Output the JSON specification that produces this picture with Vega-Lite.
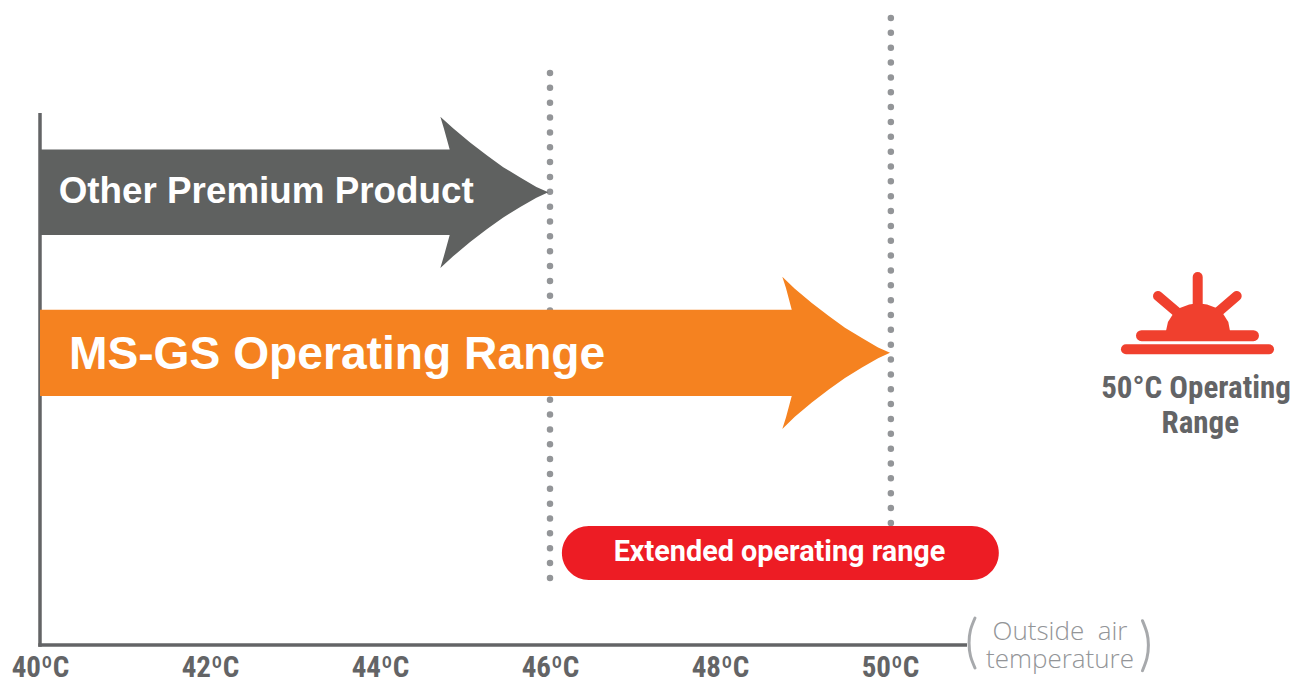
{
"$schema":"https://vega.github.io/schema/vega-lite/v6.json",
"width":1295,"height":684,"autosize":{"type":"none"},"padding":0,"background":"white",
"config":{"view":{"stroke":null}},
"datasets":{
"arrows":[
{"s":"Other","o":1,"t":40,"h":149.5},{"s":"Other","o":2,"t":44.82,"h":149.5},{"s":"Other","o":3,"t":44.75,"h":128},{"s":"Other","o":4,"t":44.71,"h":116.7},{"s":"Other","o":5,"t":44.86,"h":128.3},{"s":"Other","o":6,"t":45.06,"h":142.6},{"s":"Other","o":7,"t":45.26,"h":155.6},{"s":"Other","o":8,"t":45.45,"h":167.2},{"s":"Other","o":9,"t":45.65,"h":177.6},{"s":"Other","o":10,"t":45.84,"h":186.9},{"s":"Other","o":11,"t":45.98,"h":192.3},{"s":"Other","o":12,"t":45.84,"h":197.7},{"s":"Other","o":13,"t":45.65,"h":207},{"s":"Other","o":14,"t":45.45,"h":217.4},{"s":"Other","o":15,"t":45.26,"h":229},{"s":"Other","o":16,"t":45.06,"h":242},{"s":"Other","o":17,"t":44.86,"h":256.3},{"s":"Other","o":18,"t":44.71,"h":268},{"s":"Other","o":19,"t":44.75,"h":256.6},{"s":"Other","o":20,"t":44.82,"h":235},{"s":"Other","o":21,"t":40,"h":235},
{"s":"MS","o":1,"t":40,"h":309.7},{"s":"MS","o":2,"t":48.844,"h":309.7},{"s":"MS","o":3,"t":48.776,"h":288},{"s":"MS","o":4,"t":48.733,"h":276.7},{"s":"MS","o":5,"t":48.88,"h":288.8},{"s":"MS","o":6,"t":49.08,"h":303.1},{"s":"MS","o":7,"t":49.28,"h":316.1},{"s":"MS","o":8,"t":49.47,"h":327.7},{"s":"MS","o":9,"t":49.67,"h":338.1},{"s":"MS","o":10,"t":49.86,"h":347.4},{"s":"MS","o":11,"t":50,"h":352.8},{"s":"MS","o":12,"t":49.86,"h":358.2},{"s":"MS","o":13,"t":49.67,"h":367.5},{"s":"MS","o":14,"t":49.47,"h":377.9},{"s":"MS","o":15,"t":49.28,"h":389.5},{"s":"MS","o":16,"t":49.08,"h":402.5},{"s":"MS","o":17,"t":48.88,"h":416.8},{"s":"MS","o":18,"t":48.733,"h":428.9},{"s":"MS","o":19,"t":48.776,"h":417.6},{"s":"MS","o":20,"t":48.844,"h":396},{"s":"MS","o":21,"t":40,"h":396}
],
"dots":[{"t":46,"h":73,"h2":580},{"t":50.01,"h":18,"h2":530}],
"frame":[{"t":40,"t2":40,"h":113,"h2":646.7},{"t":39.98,"t2":50.906,"h":645,"h2":645}],
"rays":[
{"t":52.776,"t2":54.459,"h":349.3,"h2":349.3,"w":10},
{"t":52.959,"t2":54.276,"h":335.7,"h2":335.7,"w":11},
{"t":53.62,"t2":53.62,"h":277,"h2":310,"w":10},
{"t":53.153,"t2":53.388,"h":296,"h2":313,"w":10},
{"t":54.079,"t2":53.847,"h":296,"h2":313,"w":10}
],
"dome":[{"o":1,"t":53.247,"h":331},{"o":2,"t":53.27,"h":322},{"o":3,"t":53.33,"h":314},{"o":4,"t":53.41,"h":308},{"o":5,"t":53.52,"h":304.5},{"o":6,"t":53.62,"h":303.3},{"o":7,"t":53.73,"h":304.5},{"o":8,"t":53.84,"h":308},{"o":9,"t":53.92,"h":314},{"o":10,"t":53.98,"h":322},{"o":11,"t":54.0,"h":331}],
"parens":[{"s":"l","o":1,"t":51.0,"h":618},{"s":"l","o":2,"t":50.947,"h":630},{"s":"l","o":3,"t":50.93,"h":643},{"s":"l","o":4,"t":50.947,"h":656},{"s":"l","o":5,"t":51.0,"h":668},{"s":"r","o":1,"t":52.97,"h":620.7},{"s":"r","o":2,"t":53.023,"h":633},{"s":"r","o":3,"t":53.04,"h":645},{"s":"r","o":4,"t":53.023,"h":658},{"s":"r","o":5,"t":52.97,"h":670.7}]
},
"data":{"name":"arrows"},
"encoding":{
"x":{"field":"t","type":"quantitative","scale":{"domain":[39.5294,54.7647],"nice":false,"zero":false},
 "axis":{"title":null,"grid":false,"domain":false,"ticks":false,"values":[40,42,44,46,48,50],"labelExpr":"datum.value+'ºC'","labelFont":"Roboto Condensed, Roboto","labelFontWeight":"bold","labelFontSize":29,"labelColor":"#636466","labelPadding":8,"offset":-39,"labelFlush":false,"labelOverlap":false,"orient":"bottom"}},
"y":{"field":"h","type":"quantitative","scale":{"domain":[684,0],"nice":false,"zero":false},"axis":null}
},
"layer":[
{"data":{"name":"dots"},"mark":{"type":"rule","color":"#939598","strokeWidth":6.5,"strokeCap":"round","strokeDash":[0,14.85]},"encoding":{"y2":{"field":"h2"}}},
{"data":{"name":"frame"},"mark":{"type":"rule","color":"#636466","strokeWidth":3.5},"encoding":{"x2":{"field":"t2"},"y2":{"field":"h2"}}},
{"transform":[{"filter":"datum.s==='Other'"}],"mark":{"type":"line","fill":"#5F6160","stroke":"#5F6160","strokeWidth":0,"interpolate":"linear"},"encoding":{"order":{"field":"o"}}},
{"transform":[{"filter":"datum.s==='MS'"}],"mark":{"type":"line","fill":"#F58220","stroke":"#F58220","strokeWidth":0,"interpolate":"linear"},"encoding":{"order":{"field":"o"}}},
{"data":{"values":[{"t":46.14,"t2":51.28,"h":526,"h2":580}]},"mark":{"type":"rect","color":"#ED1C24","cornerRadius":27},"encoding":{"x2":{"field":"t2"},"y2":{"field":"h2"}}},
{"data":{"name":"rays"},"mark":{"type":"rule","color":"#F0402E","strokeCap":"round"},"encoding":{"x2":{"field":"t2"},"y2":{"field":"h2"},"strokeWidth":{"field":"w","type":"quantitative","scale":null}}},
{"data":{"name":"dome"},"mark":{"type":"line","fill":"#F0402E","strokeWidth":0},"encoding":{"order":{"field":"o"}}},
{"data":{"name":"parens"},"mark":{"type":"line","color":"#A7A9AC","strokeWidth":3,"strokeCap":"round","interpolate":"natural"},"encoding":{"detail":{"field":"s"},"order":{"field":"o"}}},
{"data":{"values":[{"t":40.22,"h":203,"label":"Other Premium Product"}]},"mark":{"type":"text","align":"left","baseline":"alphabetic","font":"Liberation Sans","fontWeight":"bold","fontSize":36.8,"color":"white"},"encoding":{"text":{"field":"label"}}},
{"data":{"values":[{"t":40.34,"h":369,"label":"MS-GS Operating Range"}]},"mark":{"type":"text","align":"left","baseline":"alphabetic","font":"Liberation Sans","fontWeight":"bold","fontSize":46.2,"color":"white"},"encoding":{"text":{"field":"label"}}},
{"data":{"values":[{"t":48.7,"h":561,"label":"Extended operating range"}]},"mark":{"type":"text","align":"center","baseline":"alphabetic","font":"Roboto","fontWeight":"bold","fontSize":28.8,"color":"white"},"encoding":{"text":{"field":"label"}}},
{"data":{"values":[{"t":53.6,"h":398,"label":"50°C Operating"},{"t":53.65,"h":433,"label":"Range"}]},"mark":{"type":"text","align":"center","baseline":"alphabetic","font":"Roboto Condensed, Roboto","fontWeight":"bold","fontSize":31,"color":"#636466"},"encoding":{"text":{"field":"label"}}},
{"data":{"values":[{"t":52.0,"h":640,"label":"Outside\u00a0\u00a0air"},{"t":52.0,"h":668,"label":"temperature"}]},"mark":{"type":"text","align":"center","baseline":"alphabetic","font":"Open Sans","fontWeight":300,"fontSize":26,"color":"#939598"},"encoding":{"text":{"field":"label"}}}
]
}
